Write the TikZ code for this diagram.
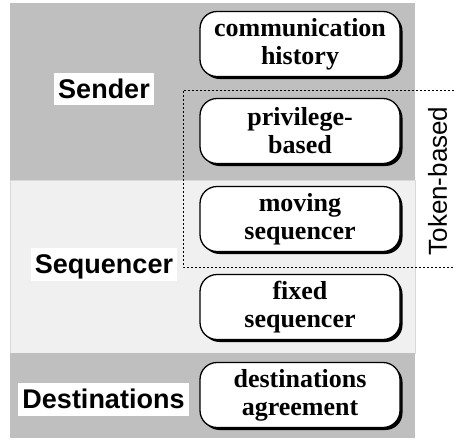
\documentclass[tikz,border=0pt]{standalone}
\usepackage{fontspec}
\setmainfont{Liberation Serif}
\setsansfont{Liberation Sans}
\usetikzlibrary{shadows}

\definecolor{darkband}{gray}{0.75}
\definecolor{lightband}{gray}{0.94}

\begin{document}
\begin{tikzpicture}
		[x=1pt,y=-1pt,
		b/.style= {draw=black,line width=1.3pt,fill=white,rounded corners=17pt,minimum width=200pt,minimum height=65pt,align=center,inner sep=2pt,font=\bfseries\fontsize{26}{28}\selectfont,drop shadow={shadow xshift=2.5pt,shadow yshift=-2.5pt,fill=black,opacity=1}},
		l/.style= {fill=white,inner xsep=4pt,inner ysep=6pt,text height=19.5pt,text depth=1pt,font=\sffamily\bfseries\fontsize{27}{30}\selectfont}]

		\useasboundingbox (0,0) rectangle (454,440);

		\fill[darkband] (10,3) rectangle (415,180);
		\filldraw[fill=lightband,draw=black!15,line width=0.6pt] (10,180) rectangle (415,353);
		\fill[darkband] (10,353) rectangle (415,438);

		\draw[dash pattern=on 2pt off 2pt,line width=0.7pt] (454,90) -- (183,90) -- (183,267) -- (454,267);

		\node[l] (sender) at (104,89) {Sender};
		\node[l] (sequencer) at (104,264.5) {Sequencer};
		\node[l] (destinations) at (103.5,399.5) {Destinations};

		\node[b] (hist) at (300,44) {communication\\history};
		\node[b] (priv) at (300,131) {privilege-\\based};
		\node[b] (moving) at (300,219) {moving\\sequencer};
		\node[b] (fixed) at (300,307) {fixed\\sequencer};
		\node[b] (dest) at (300,395) {destinations\\agreement};

		\node[rotate=90,inner sep=0pt,font=\sffamily\fontsize{26}{28}\selectfont] (token) at (437.5,181) {Token-based};

	\end{tikzpicture}
\end{document}
